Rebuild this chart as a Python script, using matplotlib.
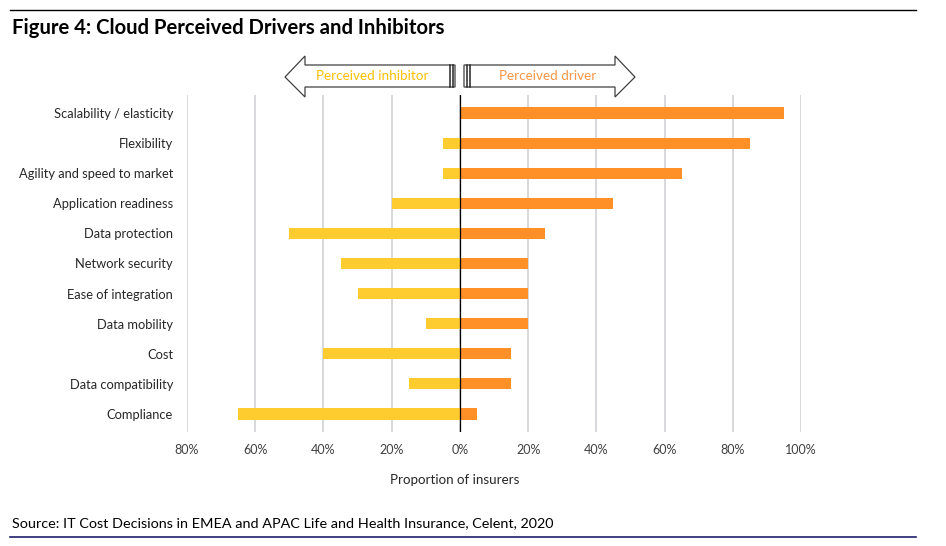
import matplotlib.pyplot as plt
from matplotlib.patches import Polygon
from matplotlib.lines import Line2D

plt.rcParams['font.family'] = ['Lato', 'DejaVu Sans']

categories = ["Scalability / elasticity", "Flexibility", "Agility and speed to market",
              "Application readiness", "Data protection", "Network security",
              "Ease of integration", "Data mobility", "Cost", "Data compatibility",
              "Compliance"]
driver = [95, 85, 65, 45, 25, 20, 20, 20, 15, 15, 5]
inhibitor = [0, 5, 5, 20, 50, 35, 30, 10, 40, 15, 65]
ticks = [-80, -60, -40, -20, 0, 20, 40, 60, 80, 100]

W, H = 946, 546
fig = plt.figure(figsize=(W / 100, H / 100), dpi=100)


def fx(px):
    return px / W


def fy(py):
    return 1 - py / H


ax = fig.add_axes([fx(187), fy(432), fx(801) - fx(187), fy(95) - fy(432)])
y = list(range(len(categories)))
ax.barh(y, driver, height=0.37, color="#FF8F27", zorder=3)
ax.barh(y, [-v for v in inhibitor], height=0.37, color="#FFCC2F", zorder=3)
ax.axvline(0, color="black", lw=0.9, zorder=4)

ax.set_xlim(-80, 100)
ax.set_ylim(len(categories) - 0.4, -0.6)
ax.set_xticks(ticks)
ax.set_xticklabels([f"{abs(t)}%" for t in ticks])
ax.set_yticks(y)
ax.set_yticklabels(categories)
ax.tick_params(axis="both", length=0, labelsize=9, colors="#404040")
ax.tick_params(axis="x", pad=9)
ax.tick_params(axis="y", pad=10, labelsize=9.3)
for t in ax.get_yticklabels():
    t.set_color("#262626")
ax.grid(axis="x", color="#D5D5DA", lw=1.3, zorder=0)
for s in ax.spines.values():
    s.set_visible(False)
fig.text(fx(455), fy(480), "Proportion of insurers", fontsize=9.6, color="#262626",
         ha="center", va="center")

# top and bottom rules
fig.add_artist(Line2D([fx(10), fx(916)], [fy(10), fy(10)], color="black", lw=1))
fig.add_artist(Line2D([fx(10), fx(916)], [fy(537), fy(537)], color="#1F1F6B", lw=1.2))
fig.text(fx(12), fy(28), "Figure 4: Cloud Perceived Drivers and Inhibitors",
         fontsize=14.6, fontweight="bold", va="center", ha="left")
fig.text(fx(12), fy(523), "Source: IT Cost Decisions in EMEA and APAC Life and Health Insurance, Celent, 2020",
         fontsize=10.4, va="center", ha="left")

# header arrows
cy, bt, bb, ht, hb = 77, 65, 87, 56, 97
left = [(285, cy), (305, ht), (305, bt), (455, bt), (455, bb), (305, bb), (305, hb)]
right = [(635, cy), (615, ht), (615, bt), (464, bt), (464, bb), (615, bb), (615, hb)]
for pts in (left, right):
    fig.add_artist(Polygon([(fx(a), fy(b)) for a, b in pts], closed=True,
                           facecolor="white", edgecolor="#404040", lw=0.9))
for xv in (450, 452.5, 467, 469.5):
    fig.add_artist(Line2D([fx(xv), fx(xv)], [fy(bt), fy(bb)], color="#262626", lw=1.1))
fig.text(fx(372), fy(76), "Perceived inhibitor", color="#FFC000", fontsize=9.7, ha="center", va="center")
fig.text(fx(548), fy(76), "Perceived driver", color="#F79646", fontsize=9.7, ha="center", va="center")

fig.savefig("out.png", dpi=100)
